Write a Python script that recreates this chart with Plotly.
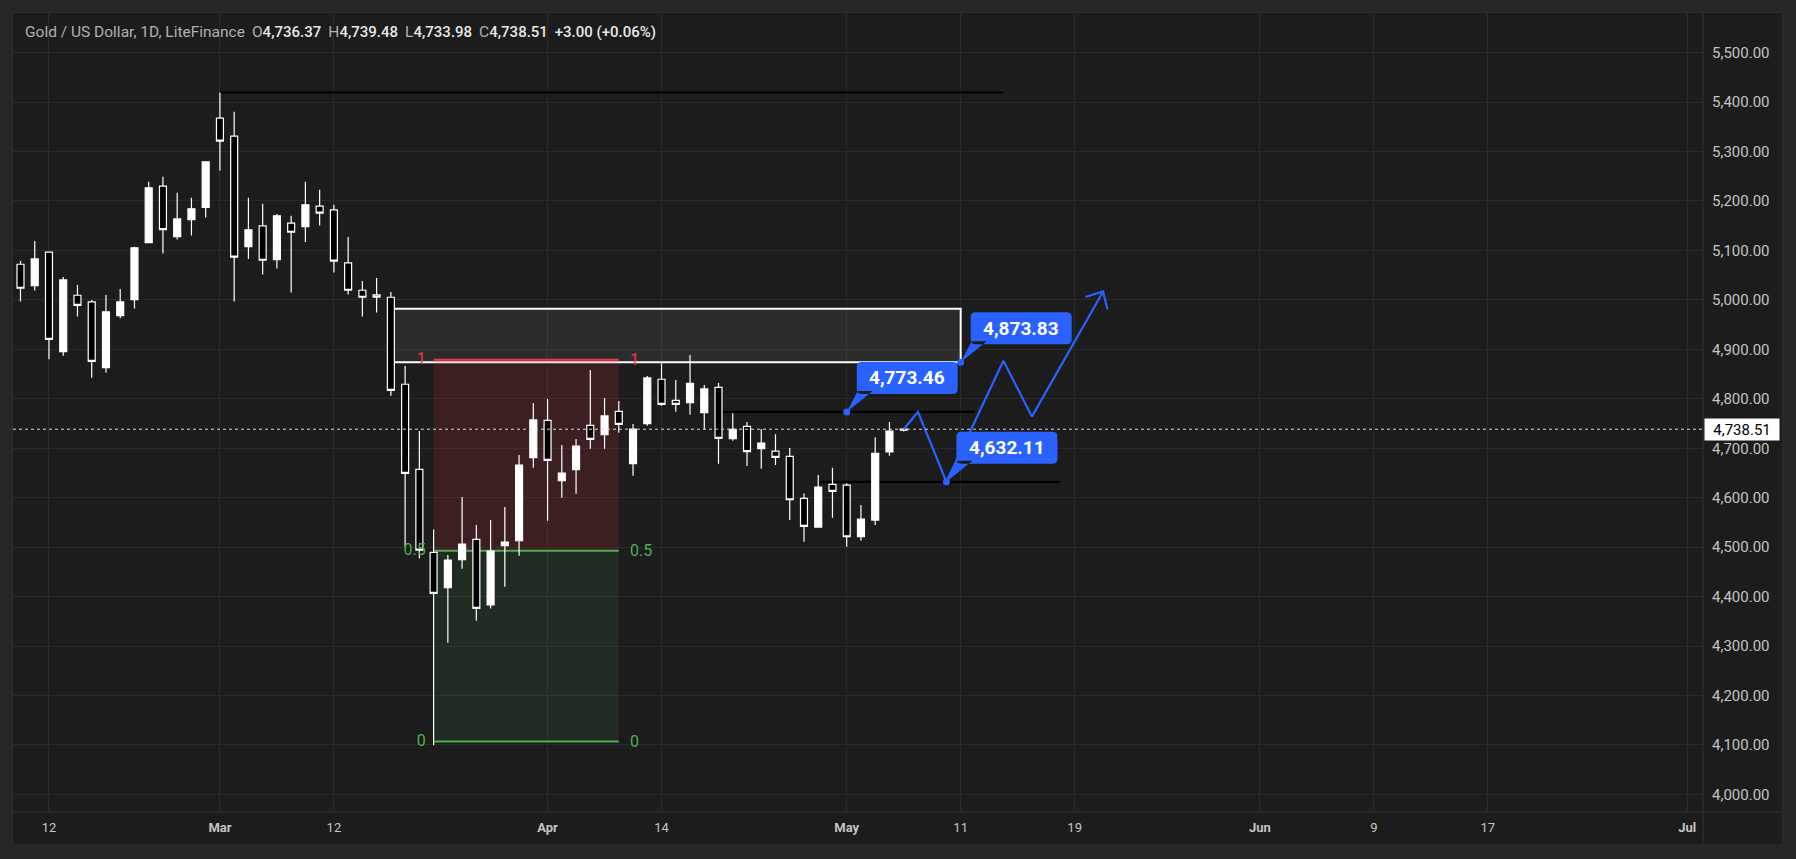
import math
import plotly.graph_objects as go

# ---------------- data ----------------
OPEN = [5072.1, 5028.9, 5096.4, 4895.4, 5009.4, 4995.9, 4863.0, 4968.2, 5000.6, 5115.9,
        5229.9, 5128.1, 5162.5, 5186.8, 5367.5, 5331.1, 5107.9, 5149.7, 5081.5, 5155.1,
        5148.3, 5189.5, 5182.0, 5074.8, 5019.5, 5010.0, 5005.3, 4829.4, 4657.4, 4489.4,
        4417.9, 4474.6, 4515.7, 4383.5, 4502.9, 4513.0, 4681.0, 4756.5, 4634.4, 4656.7,
        4746.4, 4727.5, 4774.7, 4668.8, 4749.8, 4839.5, 4797.0, 4792.3, 4772.0, 4823.3,
        4719.4, 4744.3, 4699.1, 4694.4, 4683.6, 4598.6, 4540.6, 4627.0, 4625.6, 4521.1,
        4554.8, 4692.4, 4736.37]
HIGH = [5078.8, 5119.3, 5097.0, 5046.5, 5030.3, 5000.0, 5010.0, 5022.2, 5107.2, 5238.7,
        5248.8, 5216.4, 5206.3, 5279.2, 5419.5, 5380.3, 5206.3, 5194.2, 5173.9, 5169.9,
        5238.7, 5222.5, 5192.2, 5127.4, 5038.4, 5044.4, 5016.1, 4866.4, 4734.9, 4535.9,
        4484.0, 4601.4, 4544.7, 4554.8, 4581.1, 4686.4, 4791.6, 4799.7, 4706.6, 4718.7,
        4858.4, 4801.7, 4795.6, 4749.1, 4846.2, 4871.8, 4838.1, 4888.7, 4828.0, 4832.0,
        4770.7, 4753.1, 4738.9, 4728.1, 4700.5, 4608.7, 4645.8, 4660.7, 4629.0, 4585.1,
        4722.1, 4753.1, 4739.48]
LOW = [4996.6, 5018.8, 4879.9, 4887.3, 4966.2, 4842.8, 4852.9, 4962.8, 4982.4, 5115.9,
       5093.7, 5122.0, 5130.1, 5166.5, 5261.6, 4996.6, 5082.9, 5051.2, 5063.3, 5014.8,
       5117.3, 5150.3, 5055.2, 5010.7, 4966.2, 4974.3, 4806.3, 4500.9, 4477.3, 4099.5,
       4306.6, 4456.4, 4351.1, 4376.1, 4419.9, 4482.7, 4660.7, 4553.5, 4600.0, 4608.1,
       4699.2, 4699.2, 4731.6, 4644.5, 4745.7, 4786.2, 4774.0, 4768.0, 4738.3, 4668.8,
       4715.4, 4664.1, 4658.7, 4666.1, 4554.8, 4510.9, 4539.3, 4559.5, 4500.8, 4513.0,
       4544.7, 4685.0, 4733.98]
CLOSE = [5023.5, 5082.9, 4920.3, 5040.4, 4989.1, 4875.8, 4975.6, 4995.9, 5105.2, 5226.6,
         5142.2, 5163.8, 5184.1, 5279.2, 5321.0, 5086.3, 5141.6, 5080.2, 5169.9, 5136.8,
         5192.2, 5175.3, 5078.2, 5019.5, 5005.3, 5005.3, 4817.1, 4649.3, 4494.1, 4406.4,
         4473.9, 4506.3, 4376.1, 4492.1, 4510.3, 4666.1, 4757.2, 4675.6, 4649.9, 4704.6,
         4718.1, 4765.3, 4748.4, 4738.9, 4842.2, 4788.9, 4788.9, 4831.4, 4819.9, 4720.1,
         4738.3, 4693.1, 4710.6, 4681.6, 4595.9, 4541.9, 4621.5, 4612.8, 4521.1, 4556.8,
         4689.7, 4734.9, 4738.51]
BAR_INDEX = list(range(len(OPEN)))

X_TICK_POS = [2, 14, 22, 37, 45, 58, 66, 74, 87, 95, 103, 117]
X_TICK_TEXT = ["12", "<b>Mar</b>", "12", "<b>Apr</b>", "14", "<b>May</b>",
               "11", "19", "<b>Jun</b>", "9", "17", "<b>Jul</b>"]
Y_TICKS = list(range(4000, 5501, 100))

TITLE = "Gold / US Dollar, 1D, LiteFinance"
OHLC_LETTERS = ["O", "H", "L", "C"]
OHLC_VALUES = ["4,736.37", "4,739.48", "4,733.98", "4,738.51"]
CHANGE_TEXT = "+3.00 (+0.06%)"
LAST_PRICE = 4738.51

TOP_LINE_X = [14, 69]
TOP_LINE_Y = 5419.5
ZONE_X = [26, 66]
ZONE_Y = [4873.83, 4982.0]
FIB_X = [29, 42]
FIB_LEVELS = [1, 0.5, 0]
FIB_TOP = 4879.0
FIB_BOTTOM = 4107.0
LEVEL_LINE_X0 = [49, 56]
LEVEL_LINE_X1 = [67, 73]
LEVEL_LINE_Y = [4773.46, 4632.11]
CALLOUT_X = [58, 66, 65]
CALLOUT_Y = [4773.46, 4873.83, 4632.11]
CALLOUT_TEXT = ["4,773.46", "4,873.83", "4,632.11"]
ZIG_X = [62, 63, 65, 69, 71, 76]
ZIG_Y = [4738.51, 4773.46, 4632.11, 4877.0, 4764.0, 5017.0]

# ---------------- style / layout constants ----------------
W, H = 1796, 859
ML, MR, MT, MB = 13, 93, 13, 47
X_RANGE = [-0.526, 118.11]
Y_RANGE = [3964.5, 5580.1]
FONT = "Roboto"
BLUE = "#2962ff"
PANE = "#1c1c1c"
OUTER = "#262626"
GRID = "#2a2a2a"
SEP = "#333333"
AX_TEXT = "#c4c4c4"

plot_w = W - ML - MR
plot_h = H - MT - MB
sx = plot_w / (X_RANGE[1] - X_RANGE[0])
sy = plot_h / (Y_RANGE[1] - Y_RANGE[0])

fig = go.Figure()

# fib labels as text trace (drawn under the candles)
fib_price = [FIB_BOTTOM + (FIB_TOP - FIB_BOTTOM) * lv for lv in FIB_LEVELS]
fib_col = ["#f23645" if lv == 1 else "#4caf50" for lv in FIB_LEVELS]
fib_lbl = [("%g" % lv) for lv in FIB_LEVELS]
fig.add_trace(go.Scatter(
    x=[FIB_X[0] - 0.55] * 3, y=fib_price, mode="text", text=fib_lbl,
    textposition="middle left", textfont=dict(family=FONT, size=16, color=fib_col),
    hoverinfo="skip", showlegend=False))

fig.add_trace(go.Candlestick(
    x=BAR_INDEX, open=OPEN, high=HIGH, low=LOW, close=CLOSE,
    increasing=dict(line=dict(color="#ffffff", width=1.2), fillcolor="#ffffff"),
    decreasing=dict(line=dict(color="#ffffff", width=1.2), fillcolor="#000000"),
    whiskerwidth=0, hoverinfo="skip", showlegend=False))

# projected zigzag
fig.add_trace(go.Scatter(x=ZIG_X, y=ZIG_Y, mode="lines",
                         line=dict(color=BLUE, width=2.2), hoverinfo="skip", showlegend=False))
# callout anchor points
fig.add_trace(go.Scatter(x=CALLOUT_X, y=CALLOUT_Y, mode="markers",
                         marker=dict(color=BLUE, size=7), hoverinfo="skip", showlegend=False))

shapes = []
pane_right = (W - 13.3 - ML) / plot_w
pane_bottom = -(H - 14 - (H - MB)) / plot_h
# pane background + separators
shapes.append(dict(type="rect", xref="paper", yref="paper", x0=-0.0002, x1=pane_right,
                   y0=pane_bottom, y1=1.0005,
                   fillcolor=PANE, line=dict(color="#303030", width=1), layer="below"))
shapes.append(dict(type="line", xref="paper", yref="paper", x0=1, x1=1,
                   y0=pane_bottom, y1=1, line=dict(color=SEP, width=1), layer="below"))
shapes.append(dict(type="line", xref="paper", yref="paper", x0=0, x1=pane_right,
                   y0=0, y1=0, line=dict(color=SEP, width=1), layer="below"))

# top black line
shapes.append(dict(type="line", x0=TOP_LINE_X[0], x1=TOP_LINE_X[1], y0=TOP_LINE_Y, y1=TOP_LINE_Y,
                   line=dict(color="#000000", width=2), layer="between"))
# zone rectangle
shapes.append(dict(type="rect", x0=ZONE_X[0], x1=ZONE_X[1], y0=ZONE_Y[0], y1=ZONE_Y[1],
                   fillcolor="rgba(255,255,255,0.07)", line=dict(color="#ffffff", width=2),
                   layer="between"))
# fib zones
fib_mid = fib_price[1]
shapes.append(dict(type="rect", x0=FIB_X[0], x1=FIB_X[1], y0=fib_mid, y1=FIB_TOP,
                   fillcolor="rgba(242,54,69,0.15)", line=dict(width=0), layer="between"))
shapes.append(dict(type="rect", x0=FIB_X[0], x1=FIB_X[1], y0=FIB_BOTTOM, y1=fib_mid,
                   fillcolor="rgba(76,175,80,0.11)", line=dict(width=0), layer="between"))
for p, c in zip(fib_price, fib_col):
    shapes.append(dict(type="line", x0=FIB_X[0], x1=FIB_X[1], y0=p, y1=p,
                       line=dict(color=c, width=2), layer="between"))
# black level lines
for a, b, p in zip(LEVEL_LINE_X0, LEVEL_LINE_X1, LEVEL_LINE_Y):
    shapes.append(dict(type="line", x0=a, x1=b, y0=p, y1=p,
                       line=dict(color="#000000", width=2.2), layer="between"))
# last price dotted line
shapes.append(dict(type="line", xref="paper", x0=0, x1=1, y0=LAST_PRICE, y1=LAST_PRICE,
                   line=dict(color="#d8d8d8", width=1, dash="dot"), layer="above"))

# callout bubbles (pixel-sized, anchored on the points)
Lb, Rb, Bb, Tb, r = 10, 111, 18, 50, 5
box = (f"M{Lb+r},{Bb} L{Rb-r},{Bb} Q{Rb},{Bb} {Rb},{Bb+r} L{Rb},{Tb-r} Q{Rb},{Tb} {Rb-r},{Tb} "
       f"L{Lb+r},{Tb} Q{Lb},{Tb} {Lb},{Tb-r} L{Lb},{Bb+r} Q{Lb},{Bb} {Lb+r},{Bb} Z "
       f"M0,0 L{Lb+1},{Bb+3} L{Lb+16},{Bb+3} Z")
for cx, cy in zip(CALLOUT_X, CALLOUT_Y):
    shapes.append(dict(type="path", xsizemode="pixel", ysizemode="pixel", xanchor=cx, yanchor=cy,
                       path=box, fillcolor=BLUE, line=dict(width=0), layer="above"))

# arrow head at the end of the zigzag
dxp = (ZIG_X[-1] - ZIG_X[-2]) * sx
dyp = (ZIG_Y[-1] - ZIG_Y[-2]) * sy
ln = math.hypot(dxp, dyp)
bx, by = -dxp / ln, -dyp / ln
arms = []
for ang in (-43, 43):
    a = math.radians(ang)
    arms.append((18.5 * (bx * math.cos(a) - by * math.sin(a)),
                 18.5 * (bx * math.sin(a) + by * math.cos(a))))
head = f"M{arms[0][0]:.2f},{arms[0][1]:.2f} L0,0 L{arms[1][0]:.2f},{arms[1][1]:.2f}"
shapes.append(dict(type="path", xsizemode="pixel", ysizemode="pixel",
                   xanchor=ZIG_X[-1], yanchor=ZIG_Y[-1], path=head,
                   fillcolor="rgba(0,0,0,0)", line=dict(color=BLUE, width=2.2), layer="above"))

annotations = []
for cx, cy, t in zip(CALLOUT_X, CALLOUT_Y, CALLOUT_TEXT):
    annotations.append(dict(x=cx, y=cy, xref="x", yref="y", text=f"<b>{t}</b>", showarrow=False,
                            xshift=(Lb + Rb) / 2, yshift=(Bb + Tb) / 2,
                            font=dict(family=FONT, size=19, color="#ffffff")))
# fib right labels
for p, c, t in zip(fib_price, fib_col, fib_lbl):
    annotations.append(dict(x=FIB_X[1], y=p, xref="x", yref="y", text=t, showarrow=False,
                            xanchor="left", xshift=9, font=dict(family=FONT, size=16, color=c)))

# header
g = "#b0b0b0"
v = "#e8e8e8"
sp = "\u00a0\u2009"
parts = [f"<span style='color:{g}'>{TITLE}</span>"]
for letter, val in zip(OHLC_LETTERS, OHLC_VALUES):
    parts.append(f"<span style='color:{g}'>{sp}{letter}</span>"
                 f"<span style='color:{v};font-weight:500;font-size:15px'>{val}</span>")
parts.append(f"<span style='color:{v};font-weight:500;font-size:15px'>{sp}{CHANGE_TEXT}</span>")
annotations.append(dict(xref="paper", yref="paper", x=0, y=1, xanchor="left", yanchor="middle",
                        xshift=9.7, yshift=-19.4, text="".join(parts), showarrow=False,
                        font=dict(family=FONT, size=15.5, color=g)))
# last price tag
annotations.append(dict(xref="paper", x=1, xanchor="left", xshift=1, yref="y", y=LAST_PRICE,
                        text=f"{LAST_PRICE:,.2f}", showarrow=False, bgcolor="#ffffff",
                        width=70, height=17, borderpad=2,
                        font=dict(family=FONT, size=15, color="#000000")))

fig.update_layout(
    width=W, height=H, margin=dict(l=ML, r=MR, t=MT, b=MB),
    paper_bgcolor=OUTER, plot_bgcolor=PANE, showlegend=False, hovermode=False,
    font=dict(family=FONT, color=AX_TEXT),
    shapes=shapes, annotations=annotations,
    xaxis=dict(range=X_RANGE, tickvals=X_TICK_POS, ticktext=X_TICK_TEXT, showgrid=True,
               gridcolor=GRID, gridwidth=1, zeroline=False, showline=False, ticks="",
               tickfont=dict(family=FONT, size=13, color=AX_TEXT), ticklabelstandoff=6,
               rangeslider=dict(visible=False), fixedrange=True),
    yaxis=dict(range=Y_RANGE, side="right", tickvals=Y_TICKS, tickformat=",.2f", showgrid=True,
               gridcolor=GRID, gridwidth=1, zeroline=False, showline=False, ticks="",
               tickfont=dict(family=FONT, size=15, color=AX_TEXT), ticklabelstandoff=8,
               fixedrange=True),
)

fig.write_html("out.html")
